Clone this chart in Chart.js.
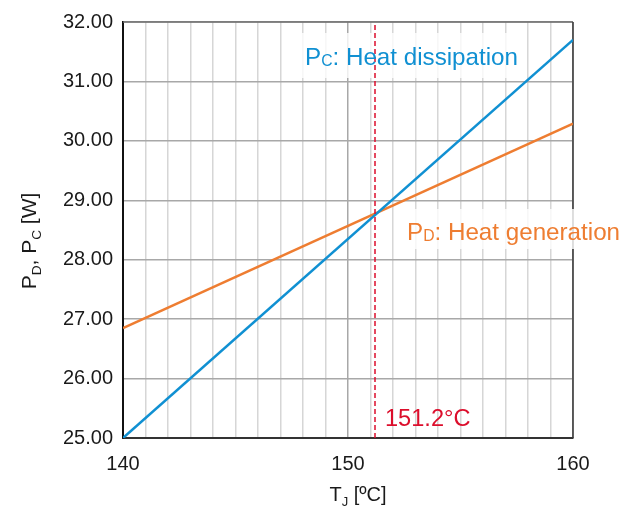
<!DOCTYPE html>
<html>
<head>
<meta charset="utf-8">
<script src="https://cdn.jsdelivr.net/npm/chart.js@4/dist/chart.umd.min.js"></script>
<style>
  html, body { margin: 0; padding: 0; background: #fff; }
  #wrap { width: 638px; height: 508px; position: relative; }
</style>
</head>
<body>
<div id="wrap"><canvas id="chart"></canvas></div>
<script>
// junction temperature (x) and the two power curves
const tj = [140, 160];
const pc = [25.00, 31.70];   // heat dissipation
const pd = [26.85, 30.29];   // heat generation
const crossX = [151.2, 151.2];
const crossY = [25, 32];
const xTickLabels = [140, 150, 160];

const BLUE = '#1090d2';
const ORANGE = '#ee7d31';
const RED = '#dc0e2c';
const FONT = '"Liberation Sans", Arial, sans-serif';

// draw text made of normal + subscript parts
function drawRich(ctx, parts, x, y, size, color, align) {
    ctx.save();
    ctx.fillStyle = color;
    ctx.textBaseline = 'alphabetic';
    ctx.textAlign = 'left';
    let total = 0;
    parts.forEach(p => {
        ctx.font = (p.sub ? size * 0.65 : size) + 'px ' + FONT;
        p.w = ctx.measureText(p.t).width;
        total += p.w;
    });
    let cx = align === 'center' ? x - total / 2 : x;
    parts.forEach(p => {
        ctx.font = (p.sub ? size * 0.65 : size) + 'px ' + FONT;
        ctx.fillText(p.t, cx, y + (p.sub ? (p.drop || 0) : 0));
        cx += p.w;
    });
    ctx.restore();
}

const labelsPlugin = {
    id: 'labels',
    beforeDatasetsDraw(chart) {
        const ctx = chart.ctx;
        const a = chart.chartArea;
        // top and right frame
        ctx.save();
        ctx.strokeStyle = '#6e6e6e';
        ctx.lineWidth = 1.5;
        ctx.beginPath();
        ctx.moveTo(a.left, a.top);
        ctx.lineTo(a.right, a.top);
        ctx.stroke();
        ctx.strokeStyle = '#3a3a3a';
        ctx.beginPath();
        ctx.moveTo(a.right, a.top);
        ctx.lineTo(a.right, a.bottom);
        ctx.stroke();

        // label backgrounds (over grid, under lines)
        ctx.fillStyle = 'rgba(255,255,255,0.8)';
        ctx.fillRect(302, 33, 220, 45);
        ctx.fillRect(403, 209, 226, 40);
        ctx.restore();
    },
    afterDraw(chart) {
        const ctx = chart.ctx;
        drawRich(ctx, [{t: 'P'}, {t: 'C', sub: true, drop: 1}, {t: ': Heat dissipation'}],
            305, 65, 24.2, BLUE, 'left');
        drawRich(ctx, [{t: 'P'}, {t: 'D', sub: true, drop: 1}, {t: ': Heat generation'}],
            407, 240, 24.2, ORANGE, 'left');
        drawRich(ctx, [{t: '151.2°C'}], 385, 426, 23.6, RED, 'left');

        // axis titles
        drawRich(ctx, [{t: 'T'}, {t: 'J', sub: true, drop: 5}, {t: ' [ºC]'}],
            358, 501, 20, '#1a1a1a', 'center');
        ctx.save();
        ctx.translate(36, 241);
        ctx.rotate(-Math.PI / 2);
        drawRich(ctx, [{t: 'P'}, {t: 'D', sub: true, drop: 5}, {t: ', P'}, {t: 'C', sub: true, drop: 5}, {t: ' [W]'}],
            0, 0, 21, '#1a1a1a', 'center');
        ctx.restore();
    }
};

new Chart(document.getElementById('chart'), {
    type: 'scatter',
    data: {
        datasets: [
            {
                label: 'PC',
                data: tj.map((x, i) => ({x, y: pc[i]})),
                showLine: true, borderColor: BLUE, borderWidth: 2.5,
                pointRadius: 0, order: 2
            },
            {
                label: 'PD',
                data: tj.map((x, i) => ({x, y: pd[i]})),
                showLine: true, borderColor: ORANGE, borderWidth: 2.5,
                pointRadius: 0, order: 3
            },
            {
                label: 'cross',
                data: crossX.map((x, i) => ({x, y: crossY[i]})),
                showLine: true, borderColor: RED, borderWidth: 1.5,
                borderDash: [5, 3], pointRadius: 0, order: 1
            }
        ]
    },
    options: {
        responsive: true,
        maintainAspectRatio: false,
        animation: false,
        layout: { padding: { left: 0, right: 65, top: 20, bottom: 0 } },
        plugins: { legend: { display: false }, tooltip: { enabled: false } },
        scales: {
            x: {
                type: 'linear', min: 140, max: 160,
                afterFit: s => { s.height = 70; },
                ticks: {
                    stepSize: 1, autoSkip: false, maxRotation: 0,
                    padding: 14, color: '#1a1a1a',
                    font: { family: FONT, size: 20 },
                    callback: v => xTickLabels.includes(v) ? String(v) : ''
                },
                grid: {
                    drawTicks: false,
                    lineWidth: 1.5,
                    color: c => (c.tick && c.tick.value % 10 === 0) ? '#a8a8a8' : '#d6d6d6'
                },
                border: { color: '#333', width: 2 }
            },
            y: {
                min: 25, max: 32,
                afterFit: s => { s.width = 123; },
                ticks: {
                    stepSize: 1, padding: 10, color: '#1a1a1a',
                    font: { family: FONT, size: 20 },
                    callback: v => Number(v).toFixed(2)
                },
                grid: { drawTicks: false, lineWidth: 1.5, color: '#a8a8a8' },
                border: { color: '#111', width: 2 }
            }
        }
    },
    plugins: [labelsPlugin]
});
</script>
</body>
</html>
